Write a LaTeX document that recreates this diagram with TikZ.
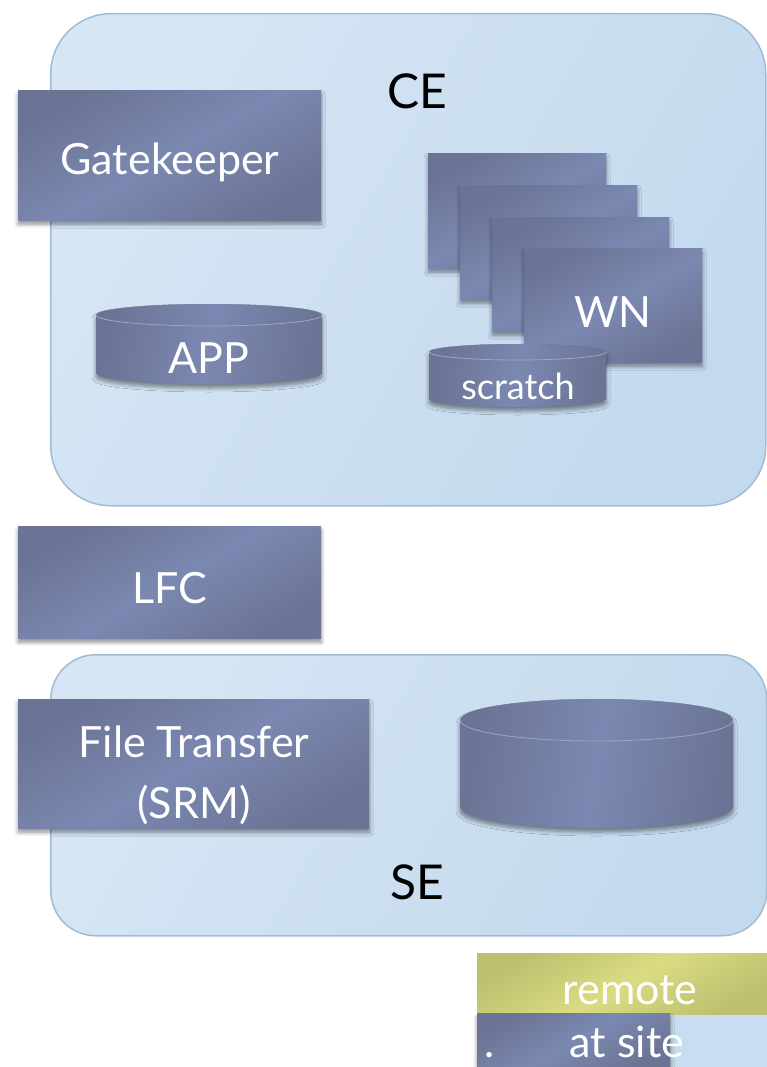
\documentclass[tikz,border=0pt]{standalone}
\usepackage{fontspec}
\setmainfont{Lato}
\usetikzlibrary{shadows,shadows.blur}
\definecolor{boxA}{HTML}{6B7494}
\definecolor{boxB}{HTML}{7B88B1}
\definecolor{contA}{HTML}{D6E6F4}
\definecolor{contB}{HTML}{C3D9EE}
\definecolor{contLine}{HTML}{A0BCD5}
\definecolor{remA}{HTML}{BDC06E}
\definecolor{remB}{HTML}{D9DC82}
\definecolor{siteLight}{HTML}{C8DDF1}
\tikzset{
  softshadow/.style={blur shadow={shadow xshift=0pt, shadow yshift=-4pt, shadow blur steps=6, shadow blur radius=4pt, shadow opacity=45}},
  container/.style={rectangle, draw=contLine, line width=1.5pt, left color=contA, right color=contB, shading angle=60, inner sep=0pt},
  box/.style={rectangle, inner sep=0pt, left color=boxA, right color=boxA, middle color=boxB, shading angle=30,
    softshadow, text=white, align=center},
  cylbody/.style={left color=boxA, right color=boxA, middle color=boxB, shading angle=80, softshadow},
  cylrim/.style={draw=boxB!75!white, line width=0.8pt},
  big/.style={font=\fontsize{43}{47}\selectfont},
  mid/.style={font=\fontsize{36}{40}\selectfont},
  lbl/.style={font=\fontsize{48}{52}\selectfont, text=black, inner sep=0pt},
  wtxt/.style={text=white, inner sep=0pt},
}
\newcommand\mycyl[5]{%
  \pgfmathsetmacro\myrx{(#2-#1)/2}%
  \path[cylbody] (#1,#3) -- (#1,#4) arc[start angle=180,end angle=360,x radius=\myrx pt,y radius=#5 pt] -- (#2,#3) arc[start angle=0,end angle=180,x radius=\myrx pt,y radius=#5 pt] -- cycle;
  \draw[cylrim] (#1,#3) arc[start angle=180,end angle=360,x radius=\myrx pt,y radius=#5 pt];
}
\begin{document}
\begin{tikzpicture}[x=1pt,y=1pt]
\useasboundingbox (0,0) rectangle (767,-1067);
% containers
\node[container, rounded corners=60pt, minimum width=715pt, minimum height=492pt, anchor=north west] (ce) at (50,-13) {};
\node[container, rounded corners=45pt, minimum width=716pt, minimum height=281pt, anchor=north west] (se) at (50,-654) {};
\node[lbl, anchor=base] (celbl) at (417,-109) {CE};
\node[lbl, anchor=base] (selbl) at (417,-899) {SE};
% CE content
\node[box, minimum width=303pt, minimum height=130pt, anchor=north west] (gk) at (18,-90) {};
\node[wtxt, big, anchor=base] (gktxt) at (170,-175) {Gatekeeper};
\mycyl{96}{322}{-315}{-373}{11}
\node[wtxt, big, anchor=base] (app) at (209,-373) {APP};
\node[box, minimum width=178pt, minimum height=115pt, anchor=north west] (wn1) at (428,-153) {};
\node[box, minimum width=177pt, minimum height=114pt, anchor=north west] (wn2) at (460,-185) {};
\node[box, minimum width=177pt, minimum height=114pt, anchor=north west] (wn3) at (492,-217) {};
\node[box, minimum width=178pt, minimum height=114pt, anchor=north west] (wn4) at (524,-248) {};
\node[wtxt, big, anchor=base] (wntxt) at (613,-327) {WN};
\mycyl{429}{606}{-352}{-399}{8}
\node[wtxt, mid, anchor=base] (scratch) at (518,-399) {scratch};
% LFC
\node[box, minimum width=303pt, minimum height=112pt, anchor=north west] (lfc) at (18,-526) {};
\node[wtxt, big, anchor=base] (lfctxt) at (170,-603) {LFC};
% SE content
\node[box, minimum width=351pt, minimum height=129pt, anchor=north west] (ft) at (18,-699) {};
\node[wtxt, big, anchor=base] (fttxt1) at (194,-757) {File Transfer};
\node[wtxt, big, anchor=base] (fttxt2) at (194,-818) {(SRM)};
\mycyl{460}{733}{-720}{-807}{21}
% legend
\node[rectangle, inner sep=0pt, left color=remA, right color=remA, middle color=remB, shading angle=30, minimum width=290pt, minimum height=62pt, anchor=north west] (remote) at (477,-953) {};
\node[wtxt, big, anchor=base] (remtxt) at (630,-1004) {remote};
\node[rectangle, inner sep=0pt, fill=siteLight, minimum width=97pt, minimum height=52pt, anchor=north west] (sitelight) at (670,-1015) {};
\node[box, minimum width=193pt, minimum height=56pt, anchor=north west] (site) at (477,-1013) {};
\node[wtxt, big, anchor=base] (dot) at (490,-1057) {.};
\node[wtxt, big, anchor=base] (sitetxt) at (627,-1057) {at site};
\end{tikzpicture}
\end{document}
